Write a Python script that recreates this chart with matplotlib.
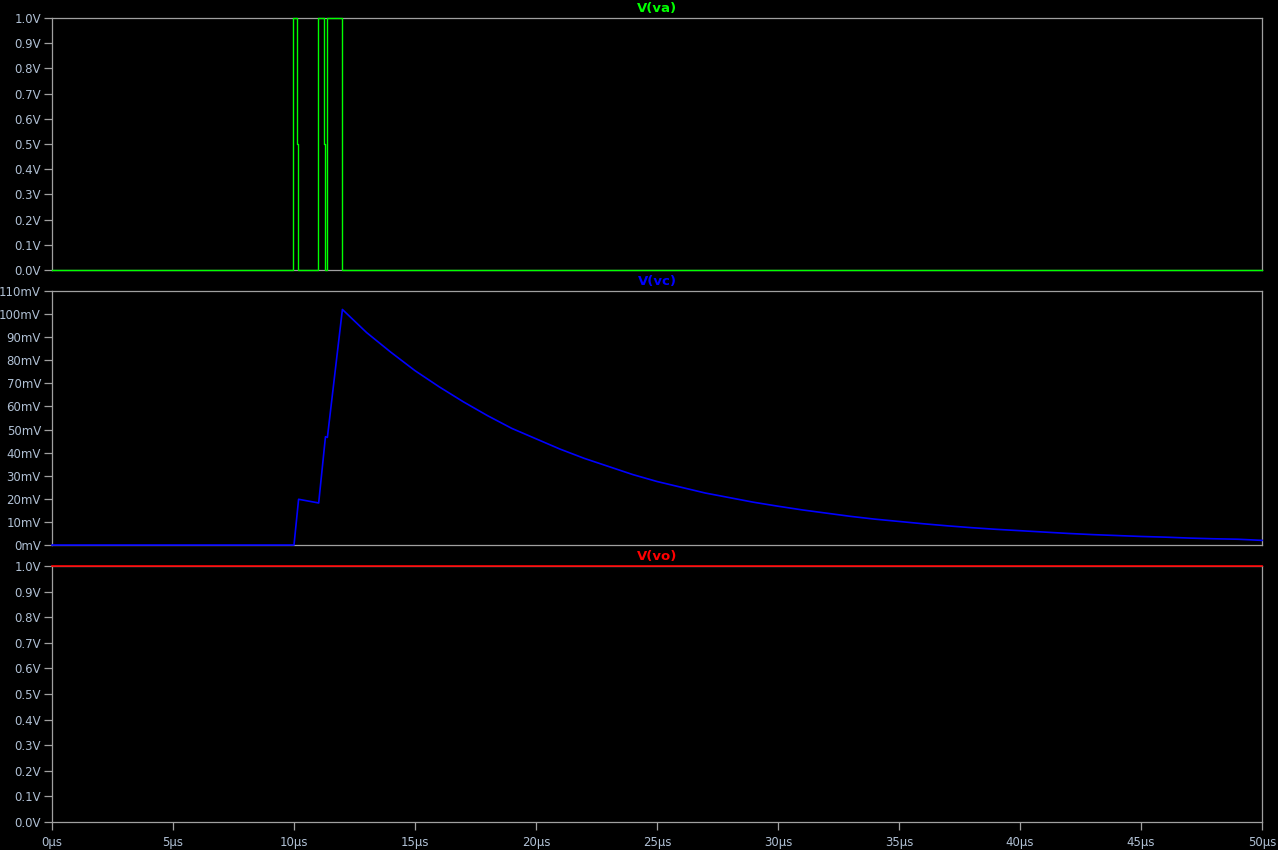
import matplotlib
matplotlib.use("Agg")
import matplotlib.pyplot as plt
from matplotlib.ticker import FuncFormatter, MultipleLocator

# V(va): switching events (time in us, level in V), held until next event
va_t = [0, 9.97, 10.14, 10.18, 11.0, 11.25, 11.3, 11.38, 12.0, 50]
va_v = [0, 1.0, 0.5, 0.0, 1.0, 0.5, 0.0, 1.0, 0.0, 0.0]

# V(vc) in mV
vc_t = [0, 10.0, 10.19, 11.02, 11.3, 11.38, 12.0,
        13, 14, 15, 16, 17, 18, 19, 20, 21, 22, 23, 24, 25, 26, 27, 28, 29, 30,
        31, 32, 33, 34, 35, 36, 37, 38, 39, 40, 41, 42, 43, 44, 45, 46, 47, 48, 49, 50]
vc_mv = [0, 0, 19.8, 18.2, 46.9, 46.6, 102,
         92, 83.5, 75.5, 68.5, 62, 56, 50.5, 46, 41.5, 37.5, 34, 30.5, 27.5, 25, 22.5, 20.5, 18.5, 16.8,
         15.2, 13.8, 12.4, 11.2, 10.2, 9.2, 8.3, 7.5, 6.8, 6.2, 5.6, 5.0, 4.5, 4.1, 3.7, 3.4, 3.0, 2.7, 2.5, 2.0]

# V(vo): flat at 1 V
vo_t = [0, 50]
vo_v = [1.0, 1.0]

grey = "#a0a0a0"
txt = "#b0c0d4"

fig = plt.figure(figsize=(12.78, 8.5), dpi=100, facecolor="black")
left, width = 52 / 1278, 1210 / 1278
ax1 = fig.add_axes([left, 1 - 270 / 850, width, 252 / 850])
ax2 = fig.add_axes([left, 1 - 545 / 850, width, 254 / 850])
ax3 = fig.add_axes([left, 1 - 822 / 850, width, 256 / 850])

ax1.plot(va_t, va_v, color="#00ff00", lw=1.0, drawstyle="steps-post", clip_on=False, zorder=5)
ax2.plot(vc_t, vc_mv, color="#0000ff", lw=1.2, clip_on=False, zorder=5)
ax3.plot(vo_t, vo_v, color="#ff0000", lw=1.2, clip_on=False, zorder=5)

panes = [(ax1, "V(va)", "#00ff00", 1.0, 0.1, "V"),
         (ax2, "V(vc)", "#0000ff", 110, 10, "mV"),
         (ax3, "V(vo)", "#ff0000", 1.0, 0.1, "V")]

for ax, name, col, ymax, step, unit in panes:
    ax.set_facecolor("black")
    ax.set_xlim(0, 50)
    ax.set_ylim(0, ymax)
    ax.yaxis.set_major_locator(MultipleLocator(step))
    if unit == "V":
        ax.yaxis.set_major_formatter(FuncFormatter(lambda v, p: f"{v:.1f}V"))
    else:
        ax.yaxis.set_major_formatter(FuncFormatter(lambda v, p: f"{v:.0f}mV"))
    for s in ax.spines.values():
        s.set_color(grey)
        s.set_linewidth(0.9)
    ax.tick_params(axis="y", colors=grey, labelcolor=txt, length=6, width=0.9,
                   pad=2, labelsize=8.5)
    ax.set_title(name, color=col, fontsize=9.5, fontweight="bold", pad=4)
    if ax is ax3:
        ax.xaxis.set_major_locator(MultipleLocator(5))
        ax.xaxis.set_major_formatter(FuncFormatter(lambda v, p: f"{v:.0f}µs"))
        ax.tick_params(axis="x", colors=grey, labelcolor=txt, length=6, width=0.9,
                       pad=4, labelsize=8.5)
    else:
        ax.set_xticks([])

fig.savefig("out.png", dpi=100, facecolor="black")
